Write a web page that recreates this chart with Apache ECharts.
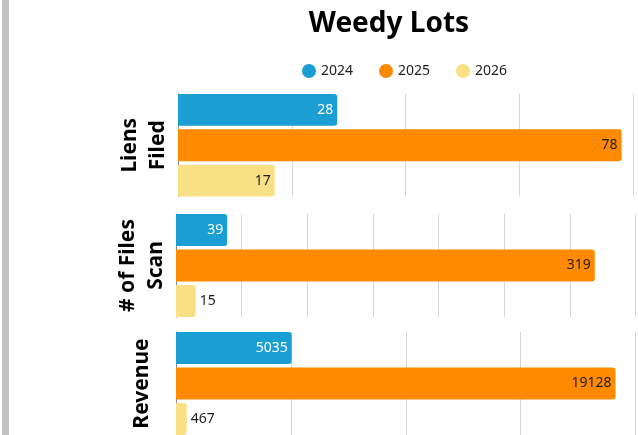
<!DOCTYPE html>
<html>
<head>
<meta charset="utf-8">
<title>Weedy Lots</title>
<script src="https://cdn.jsdelivr.net/npm/echarts@6/dist/echarts.min.js"></script>
<style>
  html, body { margin: 0; padding: 0; background: #ffffff; }
  #chart { width: 638px; height: 435px; }
</style>
</head>
<body>
<div id="chart"></div>
<script>
// Metrics shown as separate panels, one bar per year
const years = ['2024', '2025', '2026'];
const metrics = ['Liens\nFiled', '# of Files\nScan', 'Revenue'];
const liensFiled = [28, 78, 17];
const filesScanned = [39, 319, 15];
const revenue = [5035, 19128, 467];
const panelValues = [liensFiled, filesScanned, revenue];
const axisMax = [80, 350, 20000];
const axisStep = [20, 50, 5000];

const yearColors = ['#1b9ed3', '#ff8a00', '#f9e085'];
const labelColors = ['#ffffff', '#1e1e1e', '#1e1e1e'];

// Panel frames (plot areas), top to bottom
const panels = [
  { left: 178, right: 5, top: 94, height: 102.5 },
  { left: 176, right: 2.5, top: 214, height: 103 },
  { left: 176, right: 2.5, top: 332, height: 103 }
];

const FONT = '"Noto Sans", "DejaVu Sans", sans-serif';

const grid = panels.map(p => ({ left: p.left, right: p.right, top: p.top, height: p.height, containLabel: false }));

const xAxis = panels.map((p, i) => ({
  type: 'value',
  gridIndex: i,
  min: 0,
  max: axisMax[i],
  interval: axisStep[i],
  axisLine: { show: false },
  axisTick: { show: false },
  axisLabel: { show: false },
  splitLine: { show: true, lineStyle: { color: '#d6d6d6', width: 1 } }
}));

const yAxis = panels.map((p, i) => ({
  type: 'category',
  gridIndex: i,
  inverse: true,
  data: [metrics[i]],
  axisLine: { show: true, lineStyle: { color: '#8a8a8a', width: 1 } },
  axisTick: { show: false },
  axisLabel: {
    rotate: 90,
    margin: 34,
    align: 'center',
    verticalAlign: 'middle',
    fontFamily: FONT,
    fontWeight: 'bold',
    fontSize: 21,
    lineHeight: 28,
    color: '#000000'
  }
}));

const series = [];
panels.forEach((p, pi) => {
  years.forEach((yr, yi) => {
    const v = panelValues[pi][yi];
    const outside = v < axisMax[pi] * 0.1;
    series.push({
      type: 'bar',
      name: yr,
      xAxisIndex: pi,
      yAxisIndex: pi,
      barGap: '11%',
      barCategoryGap: '0%',
      itemStyle: { color: yearColors[yi], borderRadius: [0, 3, 3, 0] },
      label: {
        show: true,
        position: outside ? 'right' : 'insideRight',
        distance: 4,
        fontFamily: FONT,
        fontSize: 14,
        color: outside ? '#1e1e1e' : labelColors[yi]
      },
      data: [v]
    });
  });
});

const chart = echarts.init(document.getElementById('chart'), null, { renderer: 'canvas' });
chart.setOption({
  backgroundColor: '#ffffff',
  animation: false,
  title: {
    text: 'Weedy Lots',
    left: 384,
    textAlign: 'center',
    top: 5,
    textStyle: { fontFamily: FONT, fontWeight: 'bold', fontSize: 28, color: '#000000' }
  },
  legend: {
    data: years,
    left: 297,
    top: 59,
    icon: 'circle',
    itemWidth: 14,
    itemHeight: 14,
    itemGap: 26,
    textStyle: { fontFamily: FONT, fontSize: 14, color: '#222222' }
  },
  graphic: [{
    type: 'rect',
    left: 2,
    top: 0,
    shape: { width: 7, height: 435 },
    style: { fill: '#c4c4c4' },
    silent: true
  }],
  grid: grid,
  xAxis: xAxis,
  yAxis: yAxis,
  series: series
});
</script>
</body>
</html>
